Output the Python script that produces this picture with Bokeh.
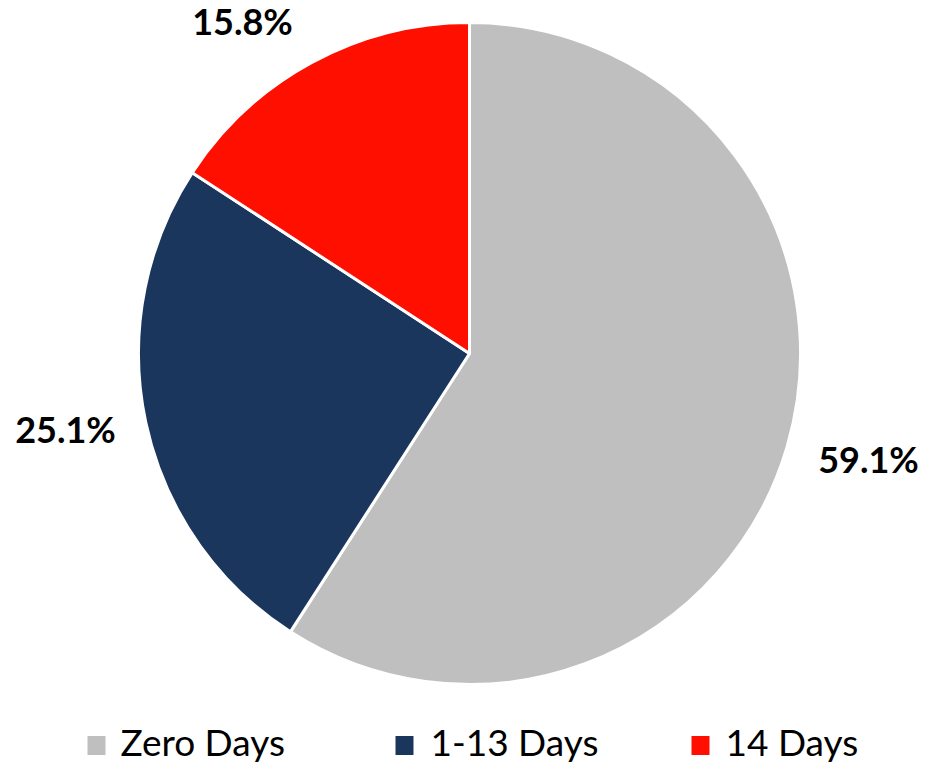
import math
from bokeh.plotting import figure
from bokeh.models import Range1d, ColumnDataSource
from bokeh.core.properties import value
from bokeh.embed import file_html
from bokeh.resources import INLINE

# ---- data ----
categories = ["Zero Days", "1-13 Days", "14 Days"]
shares = [59.1, 25.1, 15.8]
label_texts = ["59.1%", "25.1%", "15.8%"]
colors = ["#BFBFBF", "#1B365D", "#FF0F00"]

# ---- layout (pixels) ----
W, H = 925, 765
cx, cy, R = 469, 412, 331
label_pos = [(868, 307), (65, 337), (242, 745)]   # x centre, text anchor
legend_sq_x = [96, 404, 700]
legend_sq_y = 20
legend_txt_x = [120, 430, 725]
legend_txt_y = 24

p = figure(width=W, height=H, output_backend="svg", toolbar_location=None,
           x_range=Range1d(0, W), y_range=Range1d(0, H), min_border=0)
p.axis.visible = False
p.grid.visible = False
p.outline_line_color = None
p.background_fill_color = "white"
p.border_fill_color = "white"

total = sum(shares)
starts, ends = [], []
a = math.pi / 2
for s in shares:
    starts.append(a)
    a = a - 2 * math.pi * s / total
    ends.append(a)

src = ColumnDataSource(dict(x=[cx] * len(shares), y=[cy] * len(shares),
                            start=starts, end=ends, color=colors, cat=categories))
p.wedge(x="x", y="y", radius=R, start_angle="start", end_angle="end",
        direction="clock", fill_color="color", line_color="white", line_width=3,
        source=src)

# data labels
p.text(x=[lp[0] for lp in label_pos], y=[lp[1] for lp in label_pos], text=label_texts,
       text_font=value("Lato"), text_font_style="bold", text_font_size="36px",
       text_color="black", text_align="center", text_baseline="alphabetic")

# legend
p.rect(x=legend_sq_x, y=[legend_sq_y] * 3, width=18, height=19, fill_color=colors,
       line_color=None)
p.text(x=legend_txt_x, y=[legend_txt_y] * 3, text=categories,
       text_font=value("Lato"), text_font_size="37px", text_color="black",
       text_align="left", text_baseline="alphabetic")

open("out.html", "w").write(file_html(p, INLINE))
